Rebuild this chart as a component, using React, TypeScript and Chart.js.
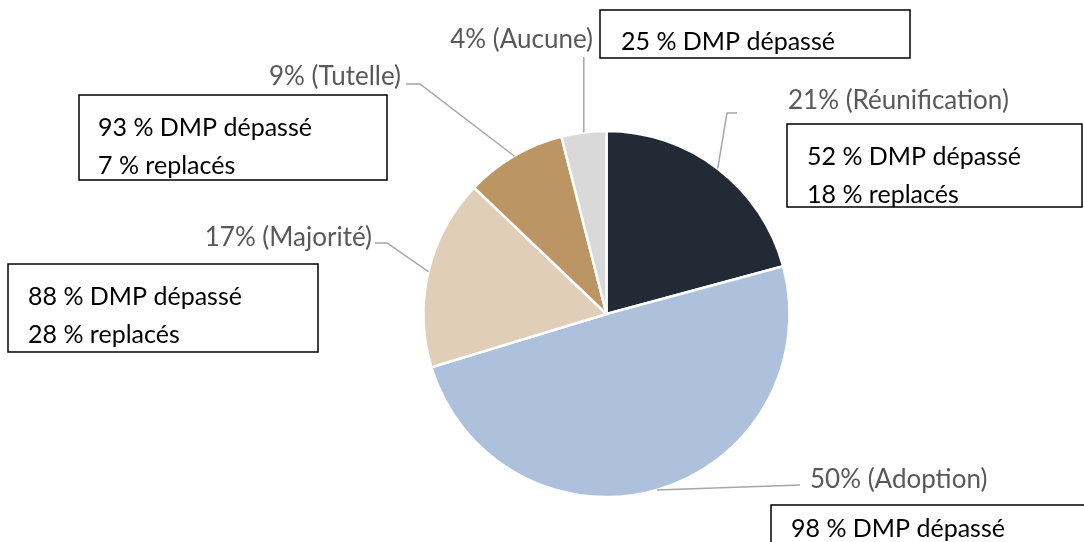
import React, { useEffect, useRef } from "react";
import { Chart, registerables } from "chart.js";

Chart.register(...registerables);

const categories = ["Réunification", "Adoption", "Majorité", "Tutelle", "Aucune"];
const shares = [21, 50, 17, 9, 4];
const dmpDepasse = [52, 98, 88, 93, 25];
const replaces: (number | null)[] = [18, null, 28, 7, null];
const colors = ["#222a36", "#adc1dc", "#e0ceb8", "#bb9664", "#d9d9d9"];

const FONT = "Lato, 'Open Sans', sans-serif";

// layout of labels / leader lines / boxes (pixel positions on canvas)
const layout = [
  {
    path: [[727, 113], [737, 113]],
    label: { x: 788, y: 101, align: "left" },
    box: { x: 787, y: 124, w: 295, h: 83, tx: 807, lines: [165, 203] },
  },
  {
    path: [[800, 485]],
    label: { x: 810, y: 480, align: "left" },
    box: { x: 771, y: 505, w: 320, h: 86, tx: 791, lines: [537, 575] },
  },
  {
    path: [[387, 243], [375, 243]],
    label: { x: 372, y: 238, align: "right" },
    box: { x: 8, y: 264, w: 310, h: 88, tx: 28, lines: [305, 343] },
  },
  {
    path: [[420, 84], [406, 84]],
    label: { x: 401, y: 77, align: "right" },
    box: { x: 79, y: 95, w: 308, h: 85, tx: 98, lines: [136, 174] },
  },
  {
    path: [[null, 57]],
    label: { x: 593, y: 40, align: "right" },
    box: { x: 600, y: 10, w: 310, h: 48, tx: 621, lines: [50] },
  },
];

const annotPlugin = {
  id: "annot",
  afterDraw(chart: any) {
    const ctx = chart.ctx as CanvasRenderingContext2D;
    const meta = chart.getDatasetMeta(0);
    ctx.save();
    meta.data.forEach((arc: any, i: number) => {
      const { x, y, startAngle, endAngle, outerRadius } = arc.getProps(
        ["x", "y", "startAngle", "endAngle", "outerRadius"],
        true
      );
      const mid = (startAngle + endAngle) / 2;
      const px = x + Math.cos(mid) * outerRadius;
      const py = y + Math.sin(mid) * outerRadius;
      const L = layout[i];
      // leader line
      ctx.strokeStyle = "#a6a6a6";
      ctx.lineWidth = 1.5;
      ctx.beginPath();
      ctx.moveTo(px, py);
      L.path.forEach(([a, b]: any) => ctx.lineTo(a === null ? px : a, b));
      ctx.stroke();
      // label
      ctx.fillStyle = "#595959";
      ctx.font = `26px ${FONT}`;
      ctx.textAlign = L.label.align as CanvasTextAlign;
      ctx.textBaseline = "middle";
      ctx.fillText(`${shares[i]}% (${categories[i]})`, L.label.x, L.label.y);
      // box
      const B = L.box;
      ctx.fillStyle = "#ffffff";
      ctx.fillRect(B.x, B.y, B.w, B.h);
      ctx.strokeStyle = "#000000";
      ctx.lineWidth = 1.5;
      ctx.strokeRect(B.x, B.y, B.w, B.h);
      ctx.fillStyle = "#000000";
      ctx.font = `25px ${FONT}`;
      ctx.textAlign = "left";
      ctx.textBaseline = "alphabetic";
      const texts = [`${dmpDepasse[i]} % DMP dépassé`];
      if (replaces[i] !== null) texts.push(`${replaces[i]} % replacés`);
      texts.forEach((t, k) => {
        if (B.lines[k] !== undefined) ctx.fillText(t, B.tx, B.lines[k]);
      });
    });
    ctx.restore();
  },
};

export default function App() {
  const ref = useRef<HTMLCanvasElement>(null);
  useEffect(() => {
    if (!ref.current) return;
    const chart = new Chart(ref.current, {
      type: "pie",
      data: {
        labels: categories,
        datasets: [
          {
            data: shares,
            backgroundColor: colors,
            borderColor: "#ffffff",
            borderWidth: 2.5,
          },
        ],
      },
      options: {
        responsive: false,
        animation: false,
        radius: 183,
        layout: { padding: { left: 424, right: 295, top: 131, bottom: 45 } },
        plugins: {
          legend: { display: false },
          tooltip: { enabled: false },
        },
      } as any,
      plugins: [annotPlugin],
    });
    return () => chart.destroy();
  }, []);
  return (
    <div style={{ position: "absolute", left: 0, top: 0, width: 1084, height: 542, background: "#fff" }}>
      <canvas ref={ref} width={1084} height={542} />
    </div>
  );
}
